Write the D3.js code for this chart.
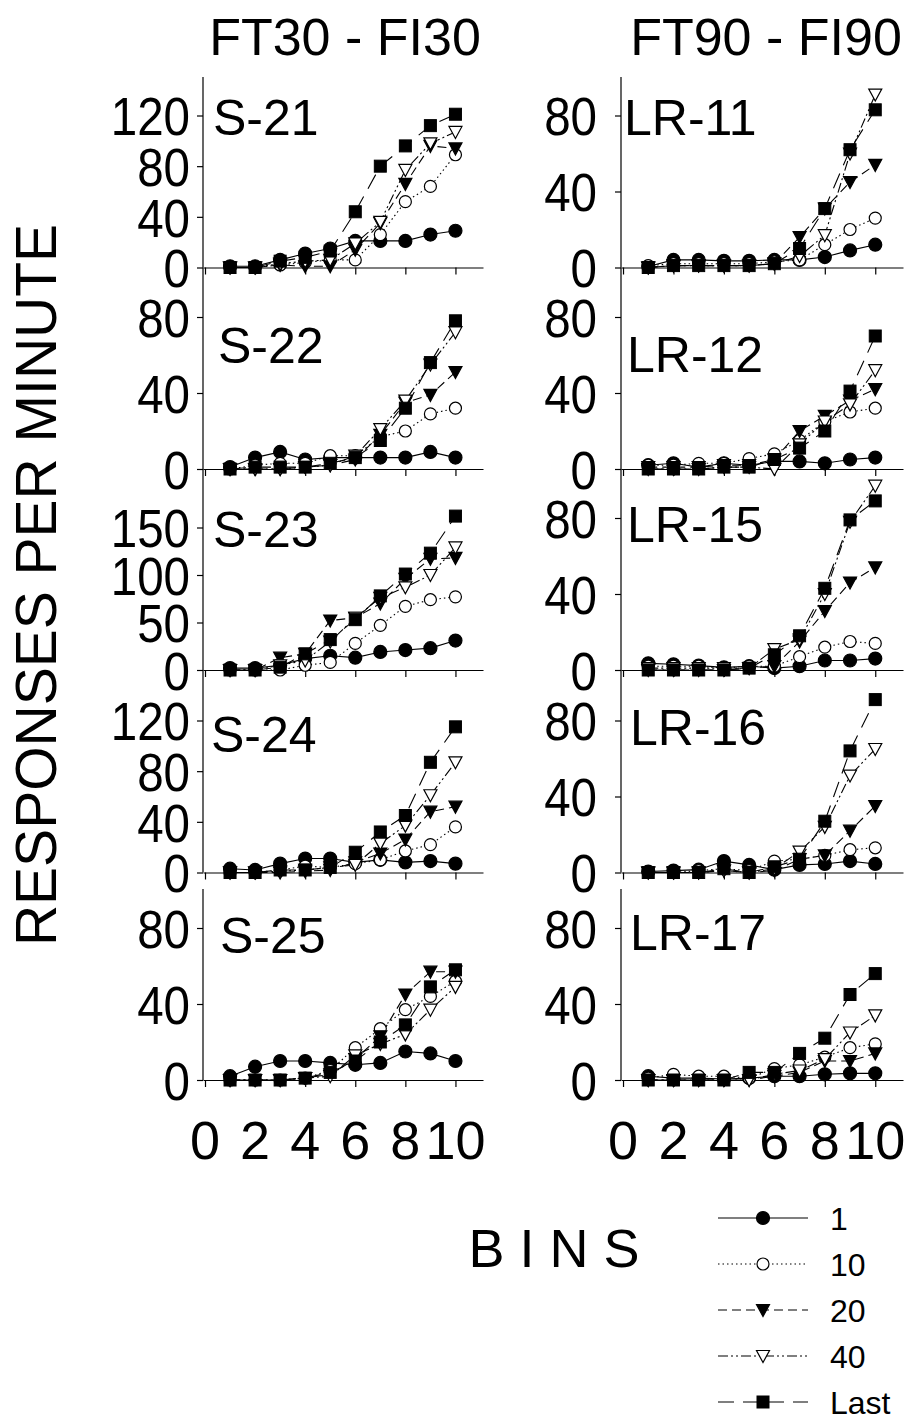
<!DOCTYPE html>
<html>
<head>
<meta charset="utf-8">
<script src="https://cdn.jsdelivr.net/npm/d3@7"></script>
<style>
    body { margin: 0; background: #fff; }
    svg text { font-family: "Liberation Sans", Arial, sans-serif; fill: #000; }
</style>
</head>
<body>
<svg id="chart"></svg>
<script>

// ---- data ----
const bins = [1, 2, 3, 4, 5, 6, 7, 8, 9, 10];
const seriesNames = ["1", "10", "20", "40", "Last"];
const columnTitles = ["FT30 - FI30", "FT90 - FI90"];
const xTicks = [0, 2, 4, 6, 8, 10];

// each subject: one row per session (1, 10, 20, 40, Last), one value per bin
const S21 = [
    [1, 1, 6, 11, 15, 21, 21, 21, 26, 29],
    [0, 0, 2, 4, 6, 6, 26, 52, 64, 89],
    [0, 0, 2, 1, 1, 14, 35, 66, 96, 94],
    [0, 0, 3, 5, 6, 19, 36, 77, 98, 107],
    [0, 0, 5, 8, 13, 44, 80, 96, 112, 121]
];
const S22 = [
    [1, 6, 9, 5, 6, 6, 6, 6, 9, 6],
    [0, 2, 3, 3, 7, 7, 17, 20, 29, 32],
    [0, 0, 0, 1, 2, 5, 18, 35, 39, 51],
    [0, 0, 0, 1, 2, 7, 21, 36, 55, 72],
    [0, 1, 1, 1, 3, 6, 15, 32, 56, 78]
];
const S23 = [
    [2, 2, 5, 12, 15, 13, 19, 21, 23, 31],
    [0, 0, 0, 5, 8, 28, 47, 67, 74, 77],
    [0, 0, 13, 17, 52, 55, 70, 96, 117, 118],
    [0, 0, 5, 10, 30, 55, 76, 87, 100, 129],
    [0, 0, 3, 17, 32, 53, 78, 101, 123, 162]
];
const S24 = [
    [3, 2, 7, 11, 11, 8, 10, 8, 9, 7],
    [0, 0, 2, 5, 4, 7, 10, 17, 22, 36],
    [0, 0, 0, 1, 2, 8, 15, 26, 48, 52],
    [0, 0, 1, 2, 4, 6, 23, 37, 61, 87],
    [0, 0, 2, 2, 4, 16, 32, 45, 87, 115]
];
const S25 = [
    [2, 7, 10, 10, 9, 8, 9, 15, 14, 10],
    [0, 0, 0, 1, 5, 17, 27, 37, 44, 52],
    [0, 0, 0, 1, 3, 11, 23, 45, 57, 57],
    [0, 0, 0, 1, 2, 13, 19, 24, 37, 49],
    [0, 0, 0, 1, 4, 10, 20, 29, 49, 58]
];
const LR11 = [
    [0.5, 4, 4, 3.5, 3.5, 4, 4, 5.5, 9, 12],
    [1, 2, 2, 2, 2, 3, 4, 12, 20, 26],
    [0, 1, 1, 1, 1, 2, 16, 31, 45, 54],
    [0, 1, 1, 1, 1, 2, 6, 17, 60, 91],
    [0, 1, 1, 1, 1, 2, 10, 31, 62, 83]
];
const LR12 = [
    [2, 3, 1, 3, 2, 4, 4, 3, 5, 6],
    [2, 2, 3, 3, 5.5, 8, 15, 25, 30, 32],
    [1, 1, 1, 2, 2, 5, 20, 28, 36, 42],
    [0, 0, 0, 1, 1, 0, 13, 25, 34, 52],
    [0, 0, 0, 1, 1, 5, 11, 20, 41, 70]
];
const LR15 = [
    [3.5, 3, 2.3, 1.4, 2, 1, 2, 5, 5, 6],
    [2, 2, 2, 1, 2, 2, 7, 12, 15, 14],
    [0, 0, 0, 0, 1, 2, 15, 31, 46, 54],
    [1, 1, 1, 1, 1, 11, 16, 40, 78, 97],
    [0, 0, 0, 0, 1, 8, 18, 43, 79, 89]
];
const LR16 = [
    [0.5, 1, 1.5, 6, 4, 1.5, 4, 4.5, 6, 4.5],
    [0, 0, 1, 2, 1, 6, 7, 9, 12, 13],
    [0, 0, 0, 1, 0, 1, 7, 9, 22, 35],
    [0, 0, 0, 1, 0, 2, 11, 24, 51, 65],
    [0, 0, 0, 2, 0, 3, 7, 27, 64, 91]
];
const LR17 = [
    [2, 1, 1, 0.5, 1, 2, 2, 3, 3.5, 3.5],
    [1, 3, 2, 2, 1, 6, 8, 12, 17, 19],
    [0, 0, 0, 0, 0, 2, 4, 10, 10, 14],
    [0, 0, 0, 0, 0, 3, 5, 11, 25, 34],
    [0, 0, 0, 0, 4, 4, 14, 22, 45, 56]
];

const leftSubjects = ["S-21", "S-22", "S-23", "S-24", "S-25"];
const rightSubjects = ["LR-11", "LR-12", "LR-15", "LR-16", "LR-17"];
const leftData = [S21, S22, S23, S24, S25];
const rightData = [LR11, LR12, LR15, LR16, LR17];
const leftYMax = [150, 100, 200, 150, 100];
const rightYMax = [100, 100, 100, 100, 100];
const leftYTicks = [[0, 40, 80, 120], [0, 40, 80], [0, 50, 100, 150], [0, 40, 80, 120], [0, 40, 80]];
const rightYTicks = [[0, 40, 80], [0, 40, 80], [0, 40, 80], [0, 40, 80], [0, 40, 80]];

// ---- layout ----
const width = 912, height = 1422;
const panelBottoms = [267.5, 469, 670, 872.5, 1080];
const panelHeight = 190;
// the y axis line runs on into the panel above for rows 2-4
const axisTops = [77, 267.5, 469, 670, 889];
const tickSquash = 0.88; // tick numbers in the figure are a bit condensed

const columns = [
    { axisX: 203, right: 483, labelGap: 13, titleX: 345,
      subjects: leftSubjects, data: leftData, yMax: leftYMax, yTicks: leftYTicks,
      labelPos: [[213, 135], [218, 363], [213, 547], [211, 752], [220, 953]] },
    { axisX: 621, right: 903, labelGap: 24, titleX: 766,
      subjects: rightSubjects, data: rightData, yMax: rightYMax, yTicks: rightYTicks,
      labelPos: [[624, 135], [627, 372], [627, 542], [630, 745], [630, 950]] }
];

// line style + marker per session
const styles = {
    "1":    { dash: null,             marker: "circle",   fill: "#000" },
    "10":   { dash: "1.5,3",          marker: "circle",   fill: "#fff" },
    "20":   { dash: "9,5",            marker: "triangle", fill: "#000" },
    "40":   { dash: "10,3,2,3,2,3",   marker: "triangle", fill: "#fff" },
    "Last": { dash: "16,9",           marker: "square",   fill: "#000" }
};

const svg = d3.select("#chart")
    .attr("width", width)
    .attr("height", height);

svg.append("rect")
    .attr("width", width)
    .attr("height", height)
    .attr("fill", "#fff");

function drawMarker(g, type, fill, cx, cy) {
    if (type === "circle") {
        g.append("circle")
            .attr("cx", cx).attr("cy", cy)
            .attr("r", fill === "#000" ? 6.5 : 6)
            .attr("fill", fill)
            .attr("stroke", "#000")
            .attr("stroke-width", 1.2);
    } else if (type === "square") {
        g.append("rect")
            .attr("x", cx - 6).attr("y", cy - 6)
            .attr("width", 12).attr("height", 12)
            .attr("fill", fill)
            .attr("stroke", "#000")
            .attr("stroke-width", 1);
    } else {
        // downward pointing triangle
        g.append("path")
            .attr("d", `M${cx - 6.5},${cy - 5.5}L${cx + 6.5},${cy - 5.5}L${cx},${cy + 6.5}Z`)
            .attr("fill", fill)
            .attr("stroke", "#000")
            .attr("stroke-width", 1.2);
    }
}

columns.forEach((col, ci) => {

    let x = d3.scaleLinear()
        .domain([-0.08, 11.1])
        .range([col.axisX, col.right]);

    // column title
    svg.append("text")
        .attr("x", col.titleX)
        .attr("y", 55)
        .attr("text-anchor", "middle")
        .attr("font-size", 52)
        .text(columnTitles[ci]);

    col.data.forEach((values, ri) => {
        let bottom = panelBottoms[ri];

        let y = d3.scaleLinear()
            .domain([0, col.yMax[ri]])
            .range([bottom, bottom - panelHeight]);

        let panel = svg.append("g").attr("class", "panel");

        // y axis line (continuous between stacked panels)
        panel.append("line")
            .attr("x1", col.axisX).attr("x2", col.axisX)
            .attr("y1", axisTops[ri]).attr("y2", bottom)
            .attr("stroke", "#000")
            .attr("stroke-width", 1.2);

        let yAxis = d3.axisLeft(y)
            .tickValues(col.yTicks[ri])
            .tickSize(6)
            .tickSizeOuter(0)
            .tickFormat(d3.format("d"));

        let yAxisGroup = panel.append("g")
            .attr("transform", `translate(${col.axisX},0)`)
            .call(yAxis);
        yAxisGroup.select(".domain").remove();
        yAxisGroup.selectAll("line").attr("stroke-width", 1.2);
        yAxisGroup.selectAll("text")
            .attr("font-size", 54)
            .attr("font-family", "Liberation Sans, Arial, sans-serif")
            .attr("x", -col.labelGap / tickSquash)
            .attr("dy", "0.36em")
            .attr("transform", `scale(${tickSquash},1)`);

        // x axis at zero
        let xAxis = d3.axisBottom(x)
            .tickValues(xTicks)
            .tickSize(7)
            .tickSizeOuter(0)
            .tickFormat("");

        let xAxisGroup = panel.append("g")
            .attr("transform", `translate(0,${bottom})`)
            .call(xAxis);
        xAxisGroup.select(".domain").attr("stroke-width", 1.2);
        xAxisGroup.selectAll("line").attr("stroke-width", 1.2);

        // subject label
        panel.append("text")
            .attr("x", col.labelPos[ri][0])
            .attr("y", col.labelPos[ri][1])
            .attr("font-size", 50)
            .text(col.subjects[ri]);

        // session lines
        let line = d3.line()
            .x((d, i) => x(bins[i]))
            .y(d => y(d));

        values.forEach((row, si) => {
            let st = styles[seriesNames[si]];
            panel.append("path")
                .datum(row)
                .attr("d", line)
                .attr("fill", "none")
                .attr("stroke", "#000")
                .attr("stroke-width", 1.1)
                .attr("stroke-dasharray", st.dash);
        });

        // markers on top
        values.forEach((row, si) => {
            let st = styles[seriesNames[si]];
            let mg = panel.append("g");
            row.forEach((v, i) => drawMarker(mg, st.marker, st.fill, x(bins[i]), y(v)));
        });

        // bin labels under the bottom panel only
        if (ri === col.data.length - 1) {
            panel.selectAll(".bin-label")
                .data(xTicks)
                .join("text")
                .attr("class", "bin-label")
                .attr("x", d => x(d))
                .attr("y", bottom + 79)
                .attr("text-anchor", "middle")
                .attr("font-size", 54)
                .text(d => d);
        }
    });
});

// axis titles
svg.append("text")
    .attr("transform", "translate(56,585) rotate(-90)")
    .attr("text-anchor", "middle")
    .attr("font-size", 57)
    .text("RESPONSES PER MINUTE");

svg.append("text")
    .attr("x", 554)
    .attr("y", 1267)
    .attr("text-anchor", "middle")
    .attr("font-size", 54)
    .text("B I N S");

// legend
let legend = svg.append("g").attr("class", "legend");
seriesNames.forEach((name, i) => {
    let st = styles[name];
    let ly = 1218 + i * 46;
    legend.append("line")
        .attr("x1", 718).attr("x2", 808)
        .attr("y1", ly).attr("y2", ly)
        .attr("stroke", "#000")
        .attr("stroke-width", 1.1)
        .attr("stroke-dasharray", st.dash);
    drawMarker(legend, st.marker, st.fill, 763, ly);
    legend.append("text")
        .attr("x", 830)
        .attr("y", ly + 12)
        .attr("font-size", 32)
        .text(name);
});

</script>
</body>
</html>
